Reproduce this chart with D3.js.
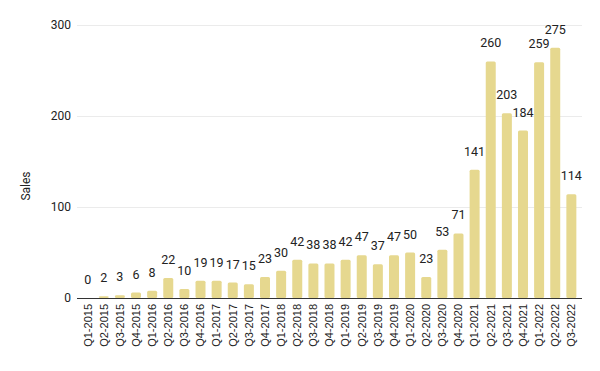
<!DOCTYPE html>
<html>
<head>
<meta charset="utf-8">
<script src="https://cdn.jsdelivr.net/npm/d3@7"></script>
<style>
  body { margin: 0; background: #fff; }
  svg { display: block; }
</style>
</head>
<body>
<svg width="600" height="371"></svg>
<script>
var quarters = ['Q1-2015','Q2-2015','Q3-2015','Q4-2015','Q1-2016','Q2-2016','Q3-2016','Q4-2016',
  'Q1-2017','Q2-2017','Q3-2017','Q4-2017','Q1-2018','Q2-2018','Q3-2018','Q4-2018',
  'Q1-2019','Q2-2019','Q3-2019','Q4-2019','Q1-2020','Q2-2020','Q3-2020','Q4-2020',
  'Q1-2021','Q2-2021','Q3-2021','Q4-2021','Q1-2022','Q2-2022','Q3-2022'];
var sales = [0,2,3,6,8,22,10,19,19,17,15,23,30,42,38,38,42,47,37,47,50,23,53,71,141,260,203,184,259,275,114];
var yTicks = [0,100,200,300];

var svg = d3.select('svg');
// note: "top" is taken by window.top, so use plot* names
var plotLeft = 77, plotRight = 582, plotTop = 25, plotBottom = 298;

var x = d3.scaleBand().domain(quarters).range([plotLeft, plotRight]).paddingInner(0.38).paddingOuter(0.35);
var y = d3.scaleLinear().domain([0, 300]).range([plotBottom, plotTop]);

// gridlines
svg.append('g').selectAll('line').data(yTicks.slice(1)).enter().append('line')
  .attr('x1', plotLeft).attr('x2', plotRight)
  .attr('y1', function(d){ return y(d) + 0.5 }).attr('y2', function(d){ return y(d) + 0.5 })
  .attr('stroke', '#ebebeb').attr('stroke-width', 1);

// y axis labels
var yAxis = svg.append('g').attr('transform', 'translate(' + plotLeft + ',0)')
  .call(d3.axisLeft(y).tickValues(yTicks).tickSize(0).tickPadding(6));
yAxis.select('.domain').remove();
yAxis.selectAll('text').attr('font-family', 'Roboto, sans-serif').attr('font-size', 12).attr('fill', '#222');

// bars
svg.append('g').selectAll('rect').data(sales).enter().append('rect')
  .attr('x', function(d, i){ return x(quarters[i]) })
  .attr('width', x.bandwidth())
  .attr('y', function(d){ return y(d) })
  .attr('height', function(d){ return plotBottom - y(d) })
  .attr('rx', 1.5)
  .attr('fill', '#e6d88f');

// baseline
svg.append('line').attr('x1', plotLeft).attr('x2', plotRight)
  .attr('y1', plotBottom + 0.5).attr('y2', plotBottom + 0.5)
  .attr('stroke', '#333').attr('stroke-width', 1);

// value labels
svg.append('g').selectAll('text').data(sales).enter().append('text')
  .attr('x', function(d, i){ return x(quarters[i]) + x.bandwidth() / 2 })
  .attr('y', function(d){ return y(d) - 14 })
  .attr('text-anchor', 'middle')
  .attr('font-family', 'Roboto, sans-serif').attr('font-size', 12.5).attr('fill', '#222')
  .text(function(d){ return d });

// x axis labels
var xAxis = svg.append('g').attr('transform', 'translate(0,' + plotBottom + ')')
  .call(d3.axisBottom(x).tickSize(0).tickPadding(0));
xAxis.select('.domain').remove();
xAxis.selectAll('text')
  .attr('transform', 'rotate(-90)')
  .attr('text-anchor', 'end')
  .attr('x', -6).attr('y', 0).attr('dy', '0.35em')
  .attr('font-family', '"Liberation Sans", Arial, sans-serif').attr('font-size', 11).attr('fill', '#222');

// y axis title
svg.append('text')
  .attr('transform', 'translate(30,186) rotate(-90)')
  .attr('text-anchor', 'middle')
  .attr('font-family', 'Roboto, sans-serif').attr('font-size', 12).attr('fill', '#222')
  .text('Sales');
</script>
</body>
</html>
